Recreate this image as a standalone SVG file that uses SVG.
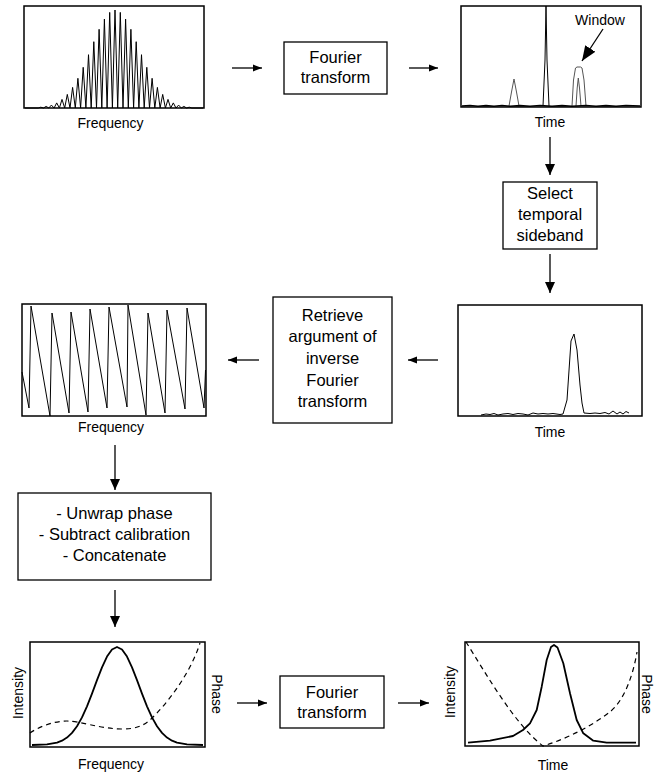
<svg xmlns="http://www.w3.org/2000/svg" width="654" height="776" viewBox="0 0 654 776">
<defs>
<style>
text{font-family:"Liberation Sans",Arial,sans-serif;fill:#000}
.ax{font-size:14px}
.bx{font-size:16.5px;text-anchor:middle}
.frame{fill:none;stroke:#000;stroke-width:1.5}
.box{fill:#fff;stroke:#000;stroke-width:1.3}
.sig{fill:none;stroke:#000;stroke-width:1;stroke-linejoin:round}
.thick{fill:none;stroke:#000;stroke-width:1.8;stroke-linejoin:round}
.dash{fill:none;stroke:#000;stroke-width:1.2;stroke-dasharray:5,4}
.conn line{stroke:#000;stroke-width:1.3}
</style>
<marker id="ah" markerUnits="userSpaceOnUse" markerWidth="12" markerHeight="10" refX="11" refY="5" orient="auto"><path d="M0,0 L11,5 L0,10 z" fill="#000"/></marker>
<marker id="ahs" markerUnits="userSpaceOnUse" markerWidth="10" markerHeight="8" refX="9" refY="4" orient="auto"><path d="M0,0.5 L9,4 L0,7.5 z" fill="#000"/></marker>
<marker id="ahw" markerUnits="userSpaceOnUse" markerWidth="16" markerHeight="12" refX="15" refY="6" orient="auto"><path d="M0,0 L15,6 L0,12 z" fill="#000"/></marker>
</defs>
<rect width="654" height="776" fill="#fff"/>

<g id="plot-interferogram">
<rect class="frame" x="24" y="6" width="180" height="102"/>
<path class="sig" d="M25,108 L38.2,108 L40.8,107.2 L43.5,108 L46.1,106.4 L48.8,108 L51.4,105.1 L54.1,108 L56.7,102.9 L59.4,108 L62,99.4 L64.7,108 L67.3,94.4 L70,108 L72.6,87.4 L75.3,108 L77.9,78.3 L80.6,108 L83.2,67.3 L85.9,108 L88.5,54.7 L91.2,108 L93.8,41.7 L96.5,108 L99.1,29.3 L101.8,108 L104.4,19.1 L107.1,108 L109.7,12.4 L112.4,108 L115,10 L117.7,108 L120.3,12.4 L123,108 L125.6,19.1 L128.3,108 L130.9,29.3 L133.6,108 L136.2,41.7 L138.9,108 L141.5,54.7 L144.2,108 L146.8,67.3 L149.5,108 L152.1,78.3 L154.8,108 L157.4,87.4 L160.1,108 L162.7,94.4 L165.4,108 L168,99.4 L170.7,108 L173.3,102.9 L176,108 L178.6,105.1 L181.3,108 L183.9,106.4 L186.6,108 L189.2,107.2 L191.9,108 L203,108"/>
<text class="ax" x="110.5" y="128" text-anchor="middle">Frequency</text>
</g>

<g id="box-ft1">
<rect class="box" x="284" y="42" width="103" height="52"/>
<text class="bx" x="335.5" y="62.5">Fourier</text>
<text class="bx" x="335.5" y="83">transform</text>
</g>

<g id="plot-time1">
<rect class="frame" x="461" y="6" width="180" height="101"/>
<path class="sig" style="stroke:#555" d="M509,106 L511.5,92 L514,79 L516.5,92 L519,106"/>
<path class="sig" d="M543,106 L545,60 L546,6 L547,60 L549,106"/>
<path class="sig" style="stroke:#555" d="M572,106 L573.5,80 L575.5,68 L577,67 L580.5,67 L582,68 L584,80 L586,106"/>
<path class="sig" style="stroke:#555" d="M576,106 L577.2,88 L578.3,78 L579.5,88 L581,106"/>
<path class="sig" style="stroke-width:1.6" d="M462,106 L470,105.5 L478,106.3 L486,105.6 L494,106.2 L502,105.5 L510,106.2 L520,105.6 L530,106.3 L540,105.5 L552,106.2 L562,105.6 L572,106.3 L586,105.5 L596,106.2 L606,105.6 L616,106.3 L626,105.5 L640,106"/>
<text class="ax" x="600" y="25" text-anchor="middle">Window</text>
<text class="ax" x="550" y="127" text-anchor="middle">Time</text>
</g>

<g id="box-select">
<rect class="box" x="503" y="182" width="94" height="67"/>
<text class="bx" x="550" y="198.5">Select</text>
<text class="bx" x="550" y="219.5">temporal</text>
<text class="bx" x="550" y="240.5">sideband</text>
</g>

<g id="plot-time2">
<rect class="frame" x="458" y="305" width="184" height="111"/>
<path class="sig" d="M481,415 L486,414 L490,414.5 L494,413.5 L498,415 L503,414 L508,413.5 L513,414.5 L518,413.5 L523,414 L528,415 L533,413 L538,414 L543,413.5 L548,414 L553,413.5 L560,414.5 L563,414 L567,400 L571,341 L574,334 L577,350 L580,385 L582,403 L584,413 L590,413.5 L595,413 L600,413.5 L605,412.5 L609,414 L613,411 L617,414 L620,412 L623,414 L626,411.5 L629,413"/>
<text class="ax" x="550" y="437" text-anchor="middle">Time</text>
</g>

<g id="box-retrieve">
<rect class="box" x="273" y="297" width="119" height="126"/>
<text class="bx" x="332.5" y="320.5">Retrieve</text>
<text class="bx" x="332.5" y="342">argument of</text>
<text class="bx" x="332.5" y="364">inverse</text>
<text class="bx" x="332.5" y="385.5">Fourier</text>
<text class="bx" x="332.5" y="407">transform</text>
</g>

<g id="plot-wrapped-phase">
<rect class="frame" x="22" y="304" width="184" height="112"/>
<path class="sig" d="M22,372 L29,408 L31,306 L50,416 L52,313 L69,413 L71,312 L88,412 L90,309 L107,408 L109,307 L127,407 L128,305 L146,415 L148,313 L165,413 L167,310 L185,409 L187,308 L204,408 L205.5,370"/>
<text class="ax" x="111" y="432" text-anchor="middle">Frequency</text>
</g>

<g id="box-unwrap">
<rect class="box" x="18" y="493" width="193" height="87"/>
<text class="bx" x="114.5" y="519">- Unwrap phase</text>
<text class="bx" x="114.5" y="540">- Subtract calibration</text>
<text class="bx" x="114.5" y="561">- Concatenate</text>
</g>

<g id="plot-spectrum">
<rect class="frame" x="30" y="642" width="175" height="105"/>
<polyline class="thick" points="32,745 47,744.4 57,742.6 62,740.7 67,737.6 72,732.9 77,726.3 82,717.4 87,706.3 92,693.6 97,680.1 102,667.3 107,656.6 112,649.5 117,647 122,649.5 127,656.6 132,667.3 137,680.1 142,693.6 147,706.3 152,717.4 157,726.3 162,732.9 167,737.6 172,740.7 177,742.6 187,744.4 203,745"/>
<path class="dash" d="M30,733 C40,726 55,721 67,721 C80,721 100,729 123,729 C135,729 143,726 150,720 C165,706 190,675 200,643"/>
<text class="ax" transform="translate(23,693) rotate(-90)" text-anchor="middle">Intensity</text>
<text class="ax" transform="translate(212,694) rotate(90)" text-anchor="middle">Phase</text>
<text class="ax" x="111" y="769" text-anchor="middle">Frequency</text>
</g>

<g id="box-ft2">
<rect class="box" x="280" y="676" width="104" height="52"/>
<text class="bx" x="332" y="697.5">Fourier</text>
<text class="bx" x="332" y="717.5">transform</text>
</g>

<g id="plot-pulse">
<rect class="frame" x="465" y="642" width="174" height="104"/>
<polyline class="thick" points="468,742.7 490,740.7 513,736 523,730 530,723.3 536.7,710 541.7,686.7 546.7,660 551,647 554,645 557.5,647.5 563.3,663.3 570,693.3 576.7,720 583.3,733.3 593.3,740.7 606.7,742.7 636,742.7"/>
<path class="dash" d="M466,642 C485,672 515,725 543,746 C570,738 598,722 611,711 C624,700 633,676 637,652"/>
<text class="ax" transform="translate(455,692) rotate(-90)" text-anchor="middle">Intensity</text>
<text class="ax" transform="translate(642,694) rotate(90)" text-anchor="middle">Phase</text>
<text class="ax" x="553" y="770" text-anchor="middle">Time</text>
</g>

<g id="connectors" class="conn">
<line x1="232" y1="68" x2="262" y2="68" marker-end="url(#ahs)"/>
<line x1="409" y1="68" x2="438" y2="68" marker-end="url(#ahs)"/>
<line x1="603" y1="29" x2="582" y2="61" marker-end="url(#ahw)"/>
<line x1="550" y1="137" x2="550" y2="175" marker-end="url(#ah)"/>
<line x1="550" y1="254" x2="550" y2="293" marker-end="url(#ah)"/>
<line x1="438" y1="360" x2="408" y2="360" marker-end="url(#ahs)"/>
<line x1="259" y1="360" x2="228" y2="360" marker-end="url(#ahs)"/>
<line x1="115" y1="445" x2="115" y2="490" marker-end="url(#ah)"/>
<line x1="115" y1="590" x2="115" y2="627" marker-end="url(#ah)"/>
<line x1="237" y1="703" x2="267" y2="703" marker-end="url(#ahs)"/>
<line x1="398" y1="703" x2="429" y2="703" marker-end="url(#ahs)"/>
</g>
</svg>
